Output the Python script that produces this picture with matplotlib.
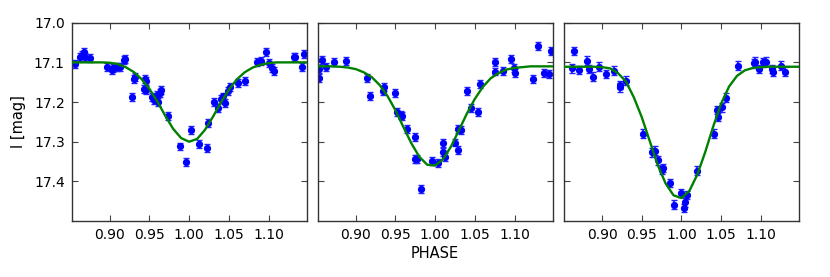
"""Three eclipse light curves (I band) folded on phase, with model fits."""

import matplotlib

matplotlib.use("Agg")
import matplotlib.pyplot as plt

# panel 1: observed points
phase1 = [0.856, 0.863, 0.865, 0.868, 0.869, 0.875, 0.897, 0.903, 0.904, 0.909,
          0.913, 0.918, 0.919, 0.928, 0.930, 0.932, 0.943, 0.944, 0.946, 0.946,
          0.953, 0.956, 0.960, 0.961, 0.963, 0.964, 0.973, 0.989, 0.996, 1.002,
          1.013, 1.023, 1.024, 1.031, 1.036, 1.040, 1.043, 1.045, 1.049, 1.051,
          1.061, 1.071, 1.086, 1.091, 1.097, 1.100, 1.104, 1.107, 1.132, 1.134,
          1.142, 1.145]
mag1 = [17.105, 17.087, 17.081, 17.073, 17.086, 17.088, 17.111, 17.119, 17.115, 17.111,
        17.111, 17.094, 17.092, 17.188, 17.141, 17.138, 17.168, 17.142, 17.148, 17.169,
        17.188, 17.195, 17.182, 17.199, 17.178, 17.169, 17.235, 17.312, 17.351, 17.270,
        17.305, 17.315, 17.253, 17.199, 17.214, 17.193, 17.186, 17.203, 17.171, 17.163,
        17.153, 17.148, 17.098, 17.096, 17.073, 17.102, 17.115, 17.122, 17.086, 17.087,
        17.111, 17.079]

# panel 2: observed points
phase2 = [0.853, 0.853, 0.857, 0.863, 0.873, 0.888, 0.914, 0.918, 0.934, 0.935,
          0.950, 0.952, 0.957, 0.958, 0.964, 0.975, 0.975, 0.977, 0.982, 0.996,
          1.003, 1.010, 1.010, 1.013, 1.025, 1.029, 1.029, 1.032, 1.040, 1.045,
          1.054, 1.057, 1.076, 1.075, 1.085, 1.096, 1.099, 1.101, 1.123, 1.130,
          1.137, 1.143, 1.146]
mag2 = [17.117, 17.140, 17.094, 17.111, 17.098, 17.096, 17.140, 17.184, 17.171, 17.163,
        17.178, 17.226, 17.232, 17.236, 17.267, 17.289, 17.343, 17.344, 17.419, 17.349,
        17.354, 17.304, 17.327, 17.339, 17.302, 17.320, 17.268, 17.270, 17.172, 17.214,
        17.224, 17.155, 17.098, 17.123, 17.121, 17.091, 17.115, 17.126, 17.141, 17.059,
        17.126, 17.129, 17.072]

# panel 3: observed points
phase3 = [0.862, 0.865, 0.871, 0.881, 0.883, 0.888, 0.896, 0.905, 0.915, 0.922,
          0.922, 0.930, 0.952, 0.963, 0.967, 0.971, 0.976, 0.977, 0.985, 0.991,
          0.999, 1.003, 1.004, 1.007, 1.020, 1.041, 1.045, 1.046, 1.051, 1.056,
          1.071, 1.092, 1.093, 1.098, 1.103, 1.107, 1.114, 1.116, 1.126, 1.131]
mag3 = [17.115, 17.071, 17.119, 17.096, 17.117, 17.136, 17.111, 17.129, 17.121, 17.163,
        17.157, 17.146, 17.280, 17.327, 17.323, 17.347, 17.371, 17.366, 17.404, 17.459,
        17.429, 17.467, 17.453, 17.434, 17.373, 17.280, 17.220, 17.238, 17.213, 17.189,
        17.108, 17.102, 17.098, 17.117, 17.100, 17.098, 17.117, 17.123, 17.108, 17.123]

mag_err = [0.010, 0.010, 0.011]

# model curves
model_phase = [0.85, 0.86, 0.87, 0.88, 0.89, 0.90, 0.91, 0.92, 0.93, 0.94,
               0.95, 0.96, 0.97, 0.98, 0.99, 1.00, 1.01, 1.02, 1.03, 1.04,
               1.05, 1.06, 1.07, 1.08, 1.09, 1.10, 1.11, 1.12, 1.13, 1.14, 1.15]
model1 = [17.100, 17.100, 17.100, 17.100, 17.100, 17.101, 17.104, 17.112, 17.124, 17.142,
          17.167, 17.199, 17.235, 17.268, 17.291, 17.300, 17.293, 17.270, 17.237, 17.201,
          17.169, 17.143, 17.125, 17.113, 17.106, 17.102, 17.100, 17.100, 17.100, 17.100,
          17.100]
model2 = [17.110, 17.110, 17.110, 17.111, 17.113, 17.117, 17.125, 17.137, 17.157, 17.185,
          17.221, 17.263, 17.304, 17.338, 17.358, 17.360, 17.344, 17.312, 17.271, 17.229,
          17.192, 17.162, 17.140, 17.127, 17.118, 17.114, 17.112, 17.110, 17.110, 17.110,
          17.110]
model3 = [17.111, 17.111, 17.111, 17.111, 17.111, 17.112, 17.115, 17.127, 17.148, 17.188,
          17.238, 17.298, 17.358, 17.405, 17.435, 17.442, 17.424, 17.383, 17.326, 17.262,
          17.204, 17.161, 17.134, 17.120, 17.114, 17.112, 17.111, 17.111, 17.111, 17.111,
          17.111]

x_ticks = [0.90, 0.95, 1.00, 1.05, 1.10]
x_tick_labels = ["0.90", "0.95", "1.00", "1.05", "1.10"]
y_ticks = [17.0, 17.1, 17.2, 17.3, 17.4]
y_tick_labels = ["17.0", "17.1", "17.2", "17.3", "17.4"]


def draw_panel(ax, phase, mag, err, model):
    ax.errorbar(phase, mag, yerr=err, fmt="o", color="blue", ms=4.2, mec="blue",
                ecolor="#2020ff", elinewidth=1.3, capsize=2.5, capthick=1.0, zorder=2)
    ax.plot(model_phase, model, "-", color=(0, 0.5, 0), lw=1.7, zorder=3)
    ax.set_xlim(0.852, 1.148)
    ax.set_ylim(17.5, 17.0)
    ax.set_xticks(x_ticks)
    ax.set_xticklabels(x_tick_labels)
    ax.set_yticks(y_ticks)
    ax.tick_params(direction="in", top=True, right=True, length=4, width=0.8,
                   labelsize=10, pad=5, color="#444444")
    for s in ax.spines.values():
        s.set_linewidth(1.0)
        s.set_color("#333333")


def main():
    fig = plt.figure(figsize=(8.3, 2.77), dpi=100)
    lefts = [0.0864, 0.3828, 0.6795]
    panels = [(phase1, mag1, model1), (phase2, mag2, model2), (phase3, mag3, model3)]
    axes = []
    for i, (left, (ph, mg, md)) in enumerate(zip(lefts, panels)):
        ax = fig.add_axes([left, 0.202, 0.283, 0.716])
        draw_panel(ax, ph, mg, mag_err[i], md)
        if i == 0:
            ax.set_yticklabels(y_tick_labels)
            ax.set_ylabel("I [mag]", fontsize=10.5, labelpad=6)
        else:
            ax.set_yticklabels([])
        axes.append(ax)
    axes[1].set_xlabel("PHASE", fontsize=10.5, labelpad=3)
    fig.savefig("out.png", dpi=100)


if __name__ == "__main__":
    main()
